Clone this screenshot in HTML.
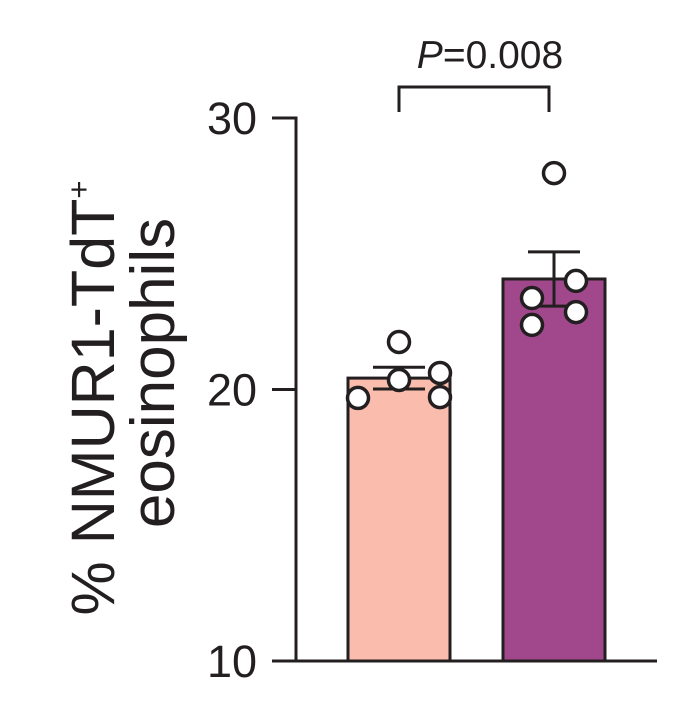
<!DOCTYPE html>
<html><head><meta charset="utf-8"><style>
html,body{margin:0;padding:0;background:#fff;}
svg{display:block;font-family:"Liberation Sans",Arial,sans-serif;}
</style></head><body>
<svg id="chart" width="682" height="724" viewBox="0 0 682 724" xmlns="http://www.w3.org/2000/svg">
<g id="axes"></g><g id="marks"></g>
<text transform="translate(114,398) rotate(-90)" text-anchor="middle" font-size="61" fill="#231f20">% NMUR1-TdT<tspan font-size="31" dy="-25">+</tspan></text>
<text transform="translate(174,373) rotate(-90)" text-anchor="middle" font-size="62" fill="#231f20">eosinophils</text>
<path d="M399,112 V87 H549 V112" fill="none" stroke="#231f20" stroke-width="3"/>
<text x="490" y="68" text-anchor="middle" font-size="39" fill="#231f20"><tspan font-style="italic">P</tspan>=0.008</text>
</svg>
<script>
const categories = ["Control", "Treated"];
const means = [20.42, 24.07];
const sems = [0.4, 1.0];
const points1 = [19.69, 21.75, 20.35, 20.61, 19.72];
const points2 = [27.97, 24.0, 23.37, 22.85, 22.38];
const pointOffsets = [[-41, 0, 0, 41, 41], [0, 22, -22, 22, -22]];
const yTicks = [10, 20, 30];
const colors = ["#f9bcad", "#a1488d"];

const NS = "http://www.w3.org/2000/svg";
const y = v => 661 - (v - 10) * 27.15;
const xc = i => 399 + i * 155;
const axes = document.getElementById('axes');
const marks = document.getElementById('marks');
function mk(tag, attrs, parent) {
  const e = document.createElementNS(NS, tag);
  for (const k in attrs) e.setAttribute(k, attrs[k]);
  parent.appendChild(e);
  return e;
}
let l = mk('line', {x1:296, x2:296, y1:y(30)-1.5, y2:661, stroke:'#231f20', 'stroke-width':3}, axes);


l = mk('line', {x1:296, x2:657, y1:661, y2:661, stroke:'#231f20', 'stroke-width':3}, axes);


yTicks.forEach(t => {
  const tk = mk('line', {x1:272, x2:296, y1:y(t), y2:y(t), stroke:'#231f20', 'stroke-width':3}, axes);
  
  
  const tx = mk('text', {x:257, y:y(t)+16, 'text-anchor':'end', 'font-size':45, fill:'#231f20'}, axes);
  tx.textContent = t;
  
  
});
const allPts = [points1, points2];
categories.forEach((c, i) => {
  const cx = xc(i);
  const b = mk('rect', {x:cx-51, y:y(means[i]), width:102, height:661-y(means[i]), fill:colors[i], stroke:'#231f20', 'stroke-width':3}, marks);
  
  
  const e = mk('path', {d:`M${cx},${y(means[i]-sems[i])} V${y(means[i]+sems[i])} M${cx-26},${y(means[i]+sems[i])} H${cx+26} M${cx-26},${y(means[i]-sems[i])} H${cx+26}`, stroke:'#231f20', 'stroke-width':3, fill:'none'}, marks);
  
  
  allPts[i].forEach((v, j) => {
    const p = mk('circle', {cx:cx + pointOffsets[i][j], cy:y(v), r:10.5, fill:'#fff', stroke:'#231f20', 'stroke-width':3.5}, marks);
    
    
  });
});
</script>
</body></html>
